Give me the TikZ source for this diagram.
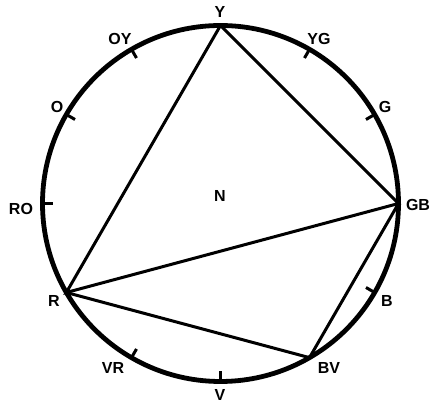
\documentclass[tikz,border=0pt]{standalone}
\usepackage{fontspec}
\setmainfont{Liberation Sans}
\usetikzlibrary{calc}
\begin{document}
\begin{tikzpicture}[x=1pt,y=1pt,
  lbl/.style={font=\bfseries\fontsize{16}{18}\selectfont, inner sep=0pt},
  rim/.style={line width=4.8pt},
  chord/.style={line width=3pt, line join=miter},
  tick/.style={line width=3pt}]
\useasboundingbox (0,0) rectangle (432,404);
\coordinate (C) at (220.5,200.5);
\def\rr{178}
\draw[rim] (C) circle (\rr);
% vertices
\coordinate (Yp) at ($(C)+(90:\rr)$);
\coordinate (GBp) at ($(C)+(0:\rr)$);
\coordinate (Rp) at ($(C)+(210:\rr)$);
\coordinate (BVp) at ($(C)+(300:\rr)$);
% ticks
\foreach \a/\n in {60/yg,30/g,330/b,270/v,240/vr,180/ro,150/o,120/oy}{
  \coordinate (t\n o) at ($(C)+(\a:\rr)$);
  \coordinate (t\n i) at ($(C)+(\a:\rr-10)$);
  \draw[tick] (t\n o) -- (t\n i);
}
% chords
\draw[chord] (Yp) -- (Rp) -- (GBp) -- cycle;
\draw[chord] (Rp) -- (BVp) -- (GBp);
% labels
\node[lbl] (Y) at (220,392) {Y};
\node[lbl] (OY) at (120,365) {OY};
\node[lbl] (YG) at (319,365) {YG};
\node[lbl] (O) at (57,297) {O};
\node[lbl] (G) at (385,297) {G};
\node[lbl] (RO) at (21,195) {RO};
\node[lbl] (GB) at (418,199) {GB};
\node[lbl] (N) at (220,208) {N};
\node[lbl] (R) at (54,103) {R};
\node[lbl] (B) at (387,103) {B};
\node[lbl] (VR) at (113,36) {VR};
\node[lbl] (BV) at (329,36) {BV};
\node[lbl] (V) at (220,9) {V};
\end{tikzpicture}
\end{document}
